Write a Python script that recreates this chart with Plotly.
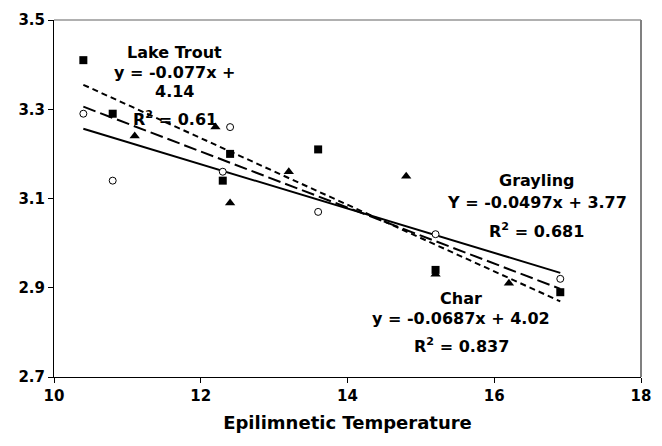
import numpy as np
import plotly.graph_objects as go

# Data
trout_x = [10.4, 10.8, 12.3, 12.4, 13.6, 15.2, 16.9]
trout_y = [3.41, 3.29, 3.14, 3.20, 3.21, 2.94, 2.89]

char_x = [11.1, 12.2, 12.4, 13.2, 14.8, 15.2, 16.2]
char_y = [3.24, 3.26, 3.09, 3.16, 3.15, 2.93, 2.91]

grayling_x = [10.4, 10.8, 12.3, 12.4, 13.6, 15.2, 16.9]
grayling_y = [3.29, 3.14, 3.16, 3.26, 3.07, 3.02, 2.92]

x_ticks = [10, 12, 14, 16, 18]
y_ticks = [2.7, 2.9, 3.1, 3.3, 3.5]

FONT = "DejaVu Sans"

all_x = trout_x + char_x + grayling_x
x_line = [min(all_x), max(all_x)]


def fit(xs, ys):
    m, b = np.polyfit(xs, ys, 1)
    return [m * v + b for v in x_line]


fig = go.Figure()

# trendlines
fig.add_trace(go.Scatter(x=x_line, y=fit(grayling_x, grayling_y), mode="lines",
                         line=dict(color="black", width=2), showlegend=False))
fig.add_trace(go.Scatter(x=x_line, y=fit(char_x, char_y), mode="lines",
                         line=dict(color="black", width=2, dash="13px,5px"), showlegend=False))
fig.add_trace(go.Scatter(x=x_line, y=fit(trout_x, trout_y), mode="lines",
                         line=dict(color="black", width=2, dash="6px,4px"), showlegend=False))

# markers
fig.add_trace(go.Scatter(x=grayling_x, y=grayling_y, mode="markers", name="Grayling",
                         marker=dict(symbol="circle", size=7, color="white",
                                     line=dict(color="black", width=1)), showlegend=False))
fig.add_trace(go.Scatter(x=char_x, y=char_y, mode="markers", name="Char",
                         marker=dict(symbol="triangle-up", size=9, color="black",
                                     line=dict(width=0)), showlegend=False))
fig.add_trace(go.Scatter(x=trout_x, y=trout_y, mode="markers", name="Lake Trout",
                         marker=dict(symbol="square", size=8, color="black",
                                     line=dict(width=0)), showlegend=False))

ann_font = dict(family=FONT, size=16, color="black")
labels = [
    (11.648, 3.428, "<b>Lake Trout</b>"),
    (11.648, 3.382, "<b>y = -0.077x +</b>"),
    (11.648, 3.339, "<b>4.14</b>"),
    (11.648, 3.279, "<b>R<sup>2</sup> = 0.61</b>"),
    (16.58, 3.140, "<b>Grayling</b>"),
    (16.58, 3.091, "<b>Y = -0.0497x + 3.77</b>"),
    (16.58, 3.029, "<b>R<sup>2</sup> = 0.681</b>"),
    (15.55, 2.876, "<b>Char</b>"),
    (15.55, 2.831, "<b>y = -0.0687x + 4.02</b>"),
    (15.55, 2.771, "<b>R<sup>2</sup> = 0.837</b>"),
]
for x, y, t in labels:
    fig.add_annotation(x=x, y=y, text=t, showarrow=False, font=ann_font,
                       xanchor="center", yanchor="middle")

fig.update_xaxes(range=[10, 18], tickvals=x_ticks, ticktext=[str(v) for v in x_ticks],
                 showgrid=False, zeroline=False, showline=True, linecolor="black", linewidth=1,
                 ticks="outside", ticklen=5, tickcolor="black",
                 tickfont=dict(family=FONT, size=15, color="black", weight="bold"),
                 title=dict(text="<b>Epilimnetic Temperature</b>",
                            font=dict(family=FONT, size=18, color="black"), standoff=12))
fig.update_yaxes(range=[2.7, 3.5], tickvals=y_ticks, ticktext=[f"{v:.1f}" for v in y_ticks],
                 showgrid=False, zeroline=False, showline=True, linecolor="black", linewidth=1,
                 ticks="outside", ticklen=5, tickcolor="black",
                 tickfont=dict(family=FONT, size=15, color="black", weight="bold"))

# plot-area border (top and right)
fig.add_shape(type="line", xref="paper", yref="paper", x0=0, x1=1, y0=1, y1=1,
              line=dict(color="#b0b0b0", width=2))
fig.add_shape(type="line", xref="paper", yref="paper", x0=1, x1=1, y0=0, y1=1,
              line=dict(color="#808080", width=2))

fig.update_layout(width=662, height=446, margin=dict(l=54, r=11, t=15, b=69),
                  paper_bgcolor="white", plot_bgcolor="white")

fig.write_html("out.html")
